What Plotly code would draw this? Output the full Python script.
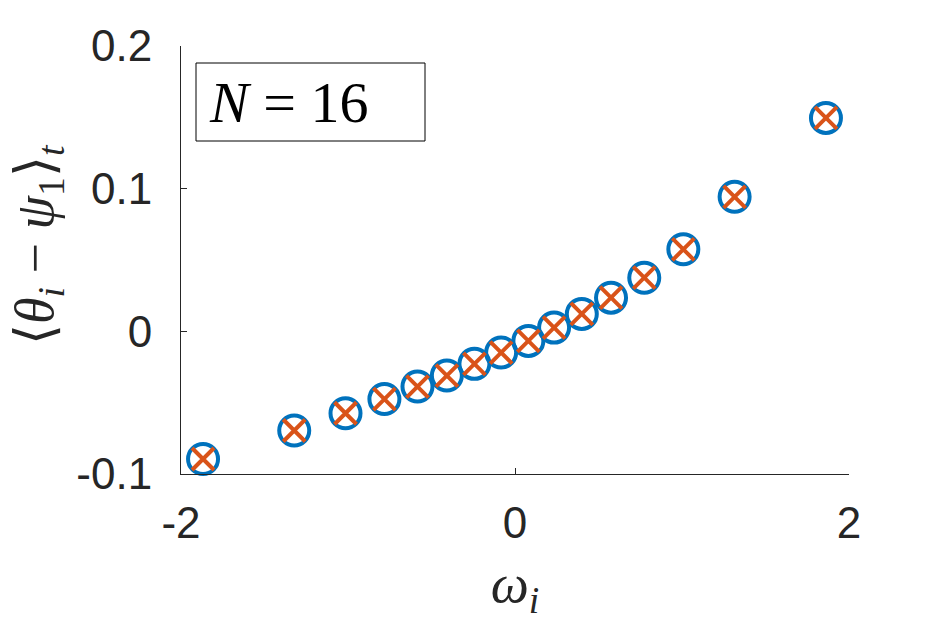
import plotly.graph_objects as go

# natural frequencies omega_i and time-averaged phase offsets
omega = [-1.868, -1.322, -1.015, -0.782, -0.584, -0.408, -0.243, -0.083,
         0.080, 0.234, 0.400, 0.575, 0.774, 1.008, 1.315, 1.862]
offset_sim = [-0.0895, -0.0695, -0.0574, -0.0475, -0.0387, -0.0310, -0.0228, -0.0149,
              -0.0067, 0.0026, 0.0122, 0.0236, 0.0376, 0.0575, 0.0943, 0.1496]
offset_theory = list(offset_sim)

x_ticks = [-2, 0, 2]
x_ticktext = ["-2", "0", "2"]
y_ticks = [-0.1, 0, 0.1, 0.2]
y_ticktext = ["-0.1", "0", "0.1", "0.2"]

axis_col = "#262626"
tick_font = dict(family="Liberation Sans", size=44, color=axis_col)
math_font = "Liberation Serif"

fig = go.Figure()
fig.add_trace(go.Scatter(x=omega, y=offset_sim, mode="markers", cliponaxis=False,
                         marker=dict(symbol="circle-open", size=30, color="#0072BD",
                                     line=dict(width=4, color="#0072BD"))))
fig.add_trace(go.Scatter(x=omega, y=offset_theory, mode="markers", cliponaxis=False,
                         marker=dict(symbol="x-thin", size=22,
                                     line=dict(width=4, color="#D95319"))))

fig.update_xaxes(range=[-2, 2], tickvals=x_ticks, ticktext=x_ticktext,
                 showline=True, linecolor=axis_col, linewidth=1, mirror=False,
                 ticks="inside", ticklen=6, tickcolor=axis_col, tickfont=tick_font,
                 showgrid=False, zeroline=False, ticklabelstandoff=10,
                 title=dict(text="<i>ω<sub>i</sub></i>", standoff=18,
                            font=dict(family=math_font, size=54, color=axis_col)))
fig.update_yaxes(range=[-0.1, 0.2], tickvals=y_ticks, ticktext=y_ticktext,
                 showline=True, linecolor=axis_col, linewidth=1, mirror=False,
                 ticks="inside", ticklen=6, tickcolor=axis_col, tickfont=tick_font,
                 showgrid=False, zeroline=False, ticklabelstandoff=19)

# y label placed as a rotated annotation
fig.add_annotation(xref="paper", yref="paper", x=(38 - 181) / 668, y=(474 - 245) / 428,
                   xanchor="center", yanchor="middle", textangle=-90, showarrow=False,
                   text="⟨<i>θ<sub>i</sub></i> − <i>ψ</i><sub>1</sub>⟩<sub><i>t</i></sub>",
                   font=dict(family=math_font, size=54, color=axis_col))

# boxed label in the upper left corner
fig.add_shape(type="rect", xref="paper", yref="paper",
              x0=(196 - 181) / 668, x1=(425 - 181) / 668,
              y0=(474 - 141) / 428, y1=(474 - 63) / 428,
              line=dict(color="black", width=1), fillcolor="white")
fig.add_annotation(xref="paper", yref="paper", x=(207 - 181) / 668, y=(474 - 102) / 428,
                   xanchor="left", yanchor="middle",
                   text="<i>N</i> = 16", showarrow=False,
                   font=dict(family=math_font, size=58, color="black"))

fig.update_layout(width=938, height=625, showlegend=False,
                  plot_bgcolor="white", paper_bgcolor="white",
                  margin=dict(l=181, r=89, t=46, b=151))

fig.write_html("out.html", config={"displayModeBar": False},
               post_script="document.body.style.margin='0px';")
